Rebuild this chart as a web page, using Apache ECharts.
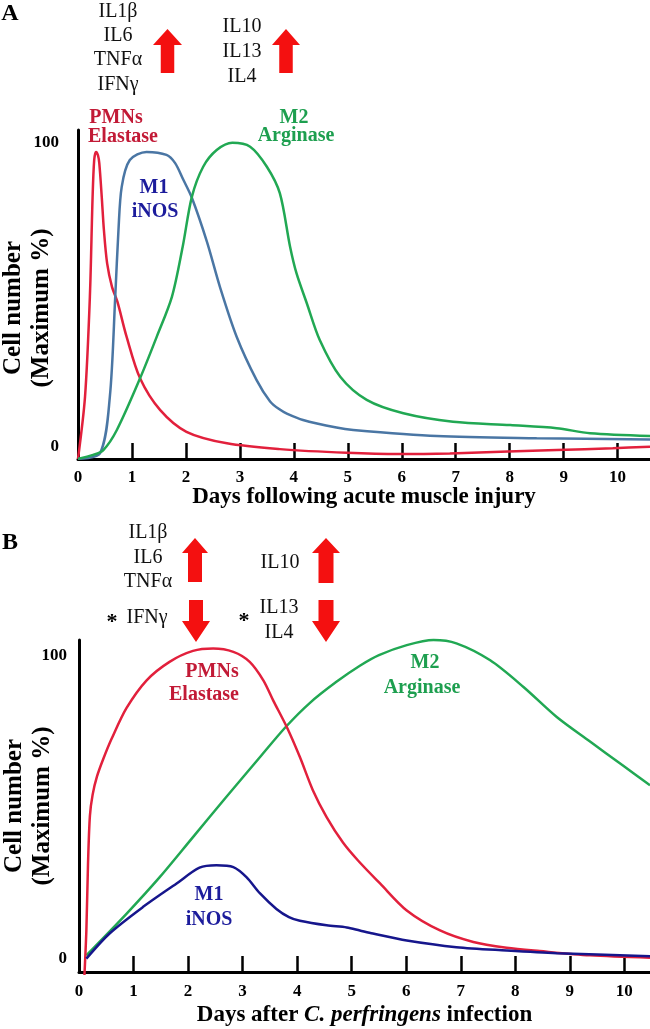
<!DOCTYPE html>
<html>
<head>
<meta charset="utf-8">
<script src="https://cdn.jsdelivr.net/npm/echarts@6/dist/echarts.min.js"></script>
<style>
  html, body { margin: 0; padding: 0; background: #fff; }
  #chart { width: 650px; height: 1029px; }
</style>
</head>
<body>
<div id="chart"></div>
<script>
// ---------- Data (days, % of maximum) ----------
const dayTicks = [0, 1, 2, 3, 4, 5, 6, 7, 8, 9, 10];
const tickMarks = [1, 2, 3, 4, 5, 6, 7, 8, 9, 10];
const yLabelValues = [0, 100];

// Panel A: acute muscle injury
const pmnInjury = [[0,-3.9],[0.13,16.5],[0.22,49.4],[0.27,82],[0.30,94.4],[0.334,97.1],[0.37,96],[0.395,93.3],[0.44,82.3],[0.48,71.4],[0.54,60.4],[0.63,52.7],[0.73,47.8],[0.90,36.3],[1.15,22.6],[1.52,12.2],[2.01,5.0],[2.76,1.2],[3.74,-0.7],[4.98,-1.9],[5.97,-2.3],[6.89,-2.1],[7.97,-1.5],[8.87,-1],[9.91,-0.4],[10.6,0.1]];
const m1Injury = [[0,-3.9],[0.41,-2],[0.59,16.5],[0.69,49.4],[0.75,71.4],[0.81,85.6],[0.96,94.4],[1.27,97.1],[1.64,96.1],[1.80,93.4],[1.95,88],[2.11,82],[2.39,67.5],[2.63,52.7],[2.94,36.3],[3.31,22],[3.56,15],[3.74,12.3],[3.87,11],[4.17,8.9],[4.79,6.4],[5.10,5.6],[6.65,3.6],[8.50,2.9],[10.6,2.5]];
const m2Injury = [[0,-3.9],[0.28,-2.6],[0.47,-1],[0.72,5.6],[1.15,22.6],[1.46,36.3],[1.74,49.4],[1.94,65.9],[2.11,82.3],[2.32,92.2],[2.57,97.7],[2.86,100.1],[3.19,98.8],[3.50,92.2],[3.74,83.5],[3.93,65.9],[4.05,57.1],[4.24,47.3],[4.48,35.2],[4.86,23.1],[5.35,15.5],[6.03,11.1],[6.95,8.3],[8.01,7.2],[8.87,6.2],[9.49,4.5],[10.6,3.6]];

// Panel B: C. perfringens infection
const pmnInfection = [[0.1,-5.5],[0.135,9.2],[0.165,31],[0.2,47],[0.25,54],[0.33,60],[0.45,66],[0.6,72.5],[0.87,82.5],[1.24,91.7],[1.66,97.8],[2.09,101.4],[2.46,102.2],[2.83,101.1],[3.13,97.8],[3.38,91.7],[3.56,85.1],[3.81,76.3],[4.05,66.4],[4.29,55.4],[4.54,46.6],[4.84,38.2],[5.12,32.2],[5.52,24.7],[6.01,15.8],[6.62,9.2],[7.23,5.4],[7.84,3.5],[8.45,2.4],[9.37,1],[10.47,0.2]];
const m1Infection = [[0.135,-0.1],[0.56,8.2],[1.17,16.9],[1.79,24.7],[2.21,29.9],[2.52,30.7],[2.83,30.1],[3.07,26.8],[3.32,21.4],[3.62,16.3],[3.85,13.6],[4.05,12.4],[4.54,10.9],[4.91,10.2],[5.15,9.2],[5.39,8.2],[6.01,5.9],[6.92,3.7],[7.84,2.6],[8.76,1.7],[10.47,0.7]];
const m2Infection = [[0.135,1],[0.87,14.7],[1.48,26.8],[2.09,40],[2.70,53.2],[3.32,66.4],[3.79,76.3],[4.23,84.2],[4.72,91.2],[5.15,96.5],[5.5,100],[6.01,103.3],[6.5,105],[6.92,103.9],[7.54,98.3],[8.15,89.5],[8.76,79.6],[9.37,71.5],[9.98,63.5],[10.47,57.1]];

// ---------- Styling ----------
const SERIF = 'Liberation Serif';
const C = {
  redLine: '#e2203c', redText: '#c21a36',
  greenLine: '#21a853', greenText: '#1d9f4f',
  blueLineA: '#4a76a4', blueLineB: '#16168c', blueText: '#1c1c9c',
  arrow: '#f41010'
};

function xAxisCfg(grid, max, name, gap, margin) {
  return {
    gridIndex: grid, type: 'value', min: 0, max: max,
    axisLine: { onZero: false, lineStyle: { color: '#000', width: 3 } },
    axisTick: { inside: true, length: 16, customValues: tickMarks, lineStyle: { color: '#000', width: 2.5 } },
    axisLabel: { customValues: dayTicks, color: '#000', fontFamily: SERIF, fontWeight: 'bold', fontSize: 17, margin: margin },
    splitLine: { show: false },
    name: name, nameLocation: 'middle', nameGap: gap, nameMoveOverlap: false,
    nameTextStyle: { color: '#000', fontFamily: SERIF, fontWeight: 'bold', fontSize: 23,
      rich: { i: { fontStyle: 'italic', fontFamily: SERIF, fontWeight: 'bold', fontSize: 23, color: '#000' } } }
  };
}
function yAxisCfg(grid, min, max, pad, margin) {
  return {
    gridIndex: grid, type: 'value', min: min, max: max,
    axisLine: { onZero: false, lineStyle: { color: '#000', width: 3 } },
    axisTick: { show: false },
    axisLabel: { customValues: yLabelValues, color: '#000', fontFamily: SERIF, fontWeight: 'bold', fontSize: 17, margin: margin },
    splitLine: { show: false },
    name: 'Cell number\n(Maximum %)', nameLocation: 'middle', nameRotate: 90, nameGap: 22, nameMoveOverlap: false,
    nameTextStyle: { color: '#000', fontFamily: SERIF, fontWeight: 'bold', fontSize: 25, lineHeight: 28, padding: pad }
  };
}
function lineSeries(data, color, xi) {
  return {
    type: 'line', data: data, xAxisIndex: xi, yAxisIndex: xi,
    showSymbol: false, smooth: 0.3, clip: false,
    lineStyle: { color: color, width: 2.5 }, silent: true
  };
}
function txt(t, x, y, opts) {
  return { type: 'text', silent: true, style: Object.assign({
    text: t, x: x, y: y, align: 'center', verticalAlign: 'middle',
    font: '20px "' + SERIF + '"', fill: '#111' }, opts || {}) };
}
function bold(size) { return 'bold ' + size + 'px "' + SERIF + '"'; }
function upArrow(x0, x1, yTop, yBot, headH, shaftW) {
  const cx = (x0 + x1) / 2, h = shaftW / 2;
  return { type: 'polygon', silent: true, style: { fill: C.arrow },
    shape: { points: [[cx, yTop], [x1, yTop + headH], [cx + h, yTop + headH], [cx + h, yBot], [cx - h, yBot], [cx - h, yTop + headH], [x0, yTop + headH]] } };
}
function downArrow(x0, x1, yTop, yBot, headH, shaftW) {
  const cx = (x0 + x1) / 2, h = shaftW / 2;
  return { type: 'polygon', silent: true, style: { fill: C.arrow },
    shape: { points: [[cx - h, yTop], [cx + h, yTop], [cx + h, yBot - headH], [x1, yBot - headH], [cx, yBot], [x0, yBot - headH], [cx - h, yBot - headH]] } };
}

const chart = echarts.init(document.getElementById('chart'), null, { renderer: 'canvas' });
chart.setOption({
  animation: false,
  backgroundColor: '#fff',
  grid: [
    { left: 78, right: 0, top: 130, height: 329, containLabel: false, outerBoundsMode: 'none' },
    { left: 79, right: 0, top: 640, height: 332, containLabel: false, outerBoundsMode: 'none' }
  ],
  xAxis: [
    xAxisCfg(0, 10.6, 'Days following acute muscle injury', 27, 10),
    xAxisCfg(1, 10.47, '{a|Days after }{i|C. perfringens}{a| infection}', 32, 11)
  ],
  yAxis: [
    yAxisCfg(0, -3.95, 104.3, [0, 27, 0, 0], 19),
    yAxisCfg(1, -4.5, 105, [0, 0, 0, 0], 12)
  ],
  series: [
    lineSeries(pmnInjury, C.redLine, 0),
    lineSeries(m1Injury, C.blueLineA, 0),
    lineSeries(m2Injury, C.greenLine, 0),
    lineSeries(m2Infection, C.greenLine, 1),
    lineSeries(pmnInfection, C.redLine, 1),
    lineSeries(m1Infection, C.blueLineB, 1)
  ],
  graphic: [
    // Panel A
    txt('A', 10, 14, { font: bold(24), fill: '#000' }),
    txt('IL1β', 118, 12), txt('IL6', 118, 36), txt('TNFα', 118, 60), txt('IFNγ', 118, 85),
    upArrow(153, 182, 29, 73, 16, 13.5),
    txt('IL10', 242, 27), txt('IL13', 242, 52), txt('IL4', 242, 77),
    upArrow(272, 300, 29, 73, 16, 13.5),
    txt('PMNs', 116, 118, { font: bold(20), fill: C.redText }),
    txt('Elastase', 123, 137, { font: bold(20), fill: C.redText }),
    txt('M2', 294, 118, { font: bold(20), fill: C.greenText }),
    txt('Arginase', 296, 136, { font: bold(20), fill: C.greenText }),
    txt('M1', 154, 188, { font: bold(20), fill: C.blueText }),
    txt('iNOS', 155, 212, { font: bold(20), fill: C.blueText }),
    // Panel B
    txt('B', 10, 543, { font: bold(24), fill: '#000' }),
    txt('IL1β', 148, 533), txt('IL6', 148, 558), txt('TNFα', 148, 582),
    txt('*', 112, 622, { font: bold(22), fill: '#000' }), txt('IFNγ', 147, 618),
    upArrow(182, 208, 538, 582, 15, 14),
    downArrow(182, 210, 600, 642, 21, 14),
    txt('IL10', 280, 563),
    txt('*', 244, 621, { font: bold(22), fill: '#000' }),
    txt('IL13', 279, 608), txt('IL4', 279, 633),
    upArrow(312, 340, 538, 583, 15, 15),
    downArrow(312, 340, 600, 642, 21, 15),
    txt('PMNs', 212, 672, { font: bold(20), fill: C.redText }),
    txt('Elastase', 204, 695, { font: bold(20), fill: C.redText }),
    txt('M2', 425, 663, { font: bold(20), fill: C.greenText }),
    txt('Arginase', 422, 688, { font: bold(20), fill: C.greenText }),
    txt('M1', 209, 895, { font: bold(20), fill: C.blueText }),
    txt('iNOS', 209, 920, { font: bold(20), fill: C.blueText })
  ]
});
</script>
</body>
</html>
